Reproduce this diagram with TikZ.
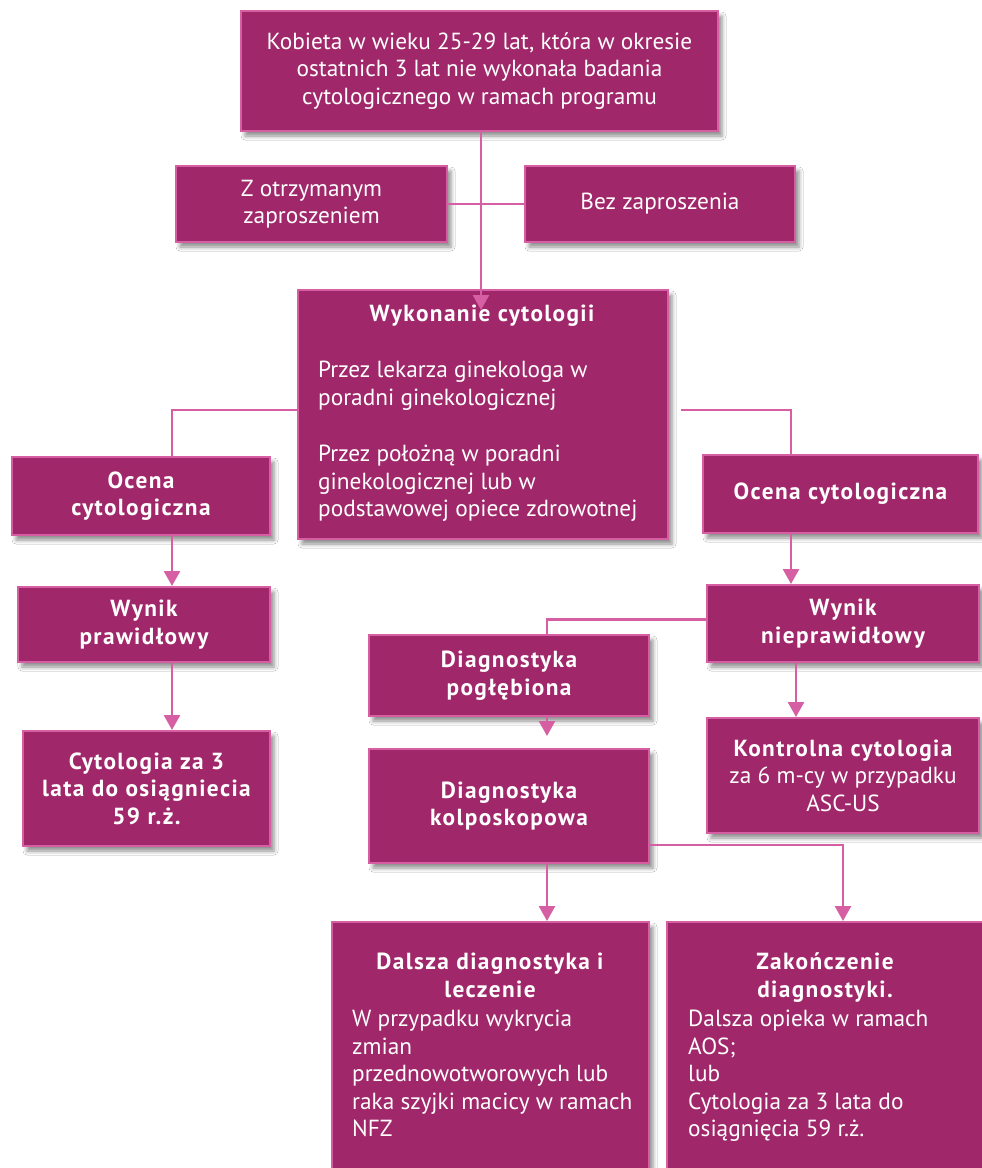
\documentclass[tikz,border=0pt]{standalone}
\usepackage{fontspec}
\setmainfont{PT Sans}[BoldFeatures={LetterSpace=6}]
\usetikzlibrary{arrows.meta,shadows.blur,calc}
\definecolor{boxfill}{RGB}{160,40,106}
\definecolor{boxline}{RGB}{214,94,162}
\definecolor{conn}{RGB}{214,94,162}
\begin{document}
\begin{tikzpicture}[x=1pt,y=-1pt,
  box/.style={draw=boxline, line width=2pt, fill=boxfill, text=white, inner sep=0pt, align=center,
    font=\fontsize{23.3}{27.5}\selectfont,
    blur shadow={shadow xshift=4pt, shadow yshift=-5pt, shadow blur radius=4pt, shadow opacity=45}},
  txt/.style={text=white, inner sep=0pt, font=\fontsize{23.3}{27.5}\selectfont},
  line/.style={draw=conn, line width=2.5pt},
  arr/.style={line, -{Triangle[width=16pt,length=15pt]}}]
\clip (0,0) rectangle (982,1168);
\fill[white] (0,0) rectangle (982,1168);
% column coordinates
\coordinate (cT) at (481,0);
\coordinate (cL) at (172,0);
\coordinate (cR1) at (791,0);
\coordinate (cR2) at (796,0);
\coordinate (cM) at (547,0);
\coordinate (cZ) at (843,0);
\coordinate (rs) at (681,410);
% boxes
\node[box, minimum width=477, minimum height=120] (top) at (479.5,71)
  {Kobieta w wieku 25-29 lat, która w okresie\\ostatnich 3 lat nie wykonała badania\\cytologicznego w ramach programu};
\node[box, minimum width=271, minimum height=76] (zinv) at (311.5,204) {Z otrzymanym\\zaproszeniem};
\node[box, minimum width=270, minimum height=76] (bez) at (660,204) {Bez zaproszenia};
\node[box, minimum width=370, minimum height=249] (wyk) at (483,414.5) {};
\node[box, minimum width=258, minimum height=78] (ocL) at (141,496) {\bfseries Ocena\\\bfseries cytologiczna};
\node[box, minimum width=275, minimum height=78] (ocR) at (840.5,494) {\bfseries Ocena cytologiczna};
\node[box, minimum width=252, minimum height=75] (wynP) at (144,624.5) {\bfseries Wynik\\\bfseries prawidłowy};
\node[box, minimum width=272, minimum height=77] (wynN) at (843,623.5) {\bfseries Wynik\\\bfseries nieprawidłowy};
\node[box, minimum width=247, minimum height=115] (cyt) at (146.5,788.5) {\bfseries Cytologia za 3\\\bfseries lata do osiągniecia\\\bfseries 59 r.ż.};
\node[box, minimum width=280, minimum height=81] (pog) at (509,675.5) {\bfseries Diagnostyka\\\bfseries pogłębiona};
\node[box, minimum width=272, minimum height=115] (kon) at (843,775.5) {\bfseries Kontrolna cytologia\\za 6 m-cy w przypadku\\ASC-US};
\node[box, minimum width=280, minimum height=114] (kol) at (509,806) {\bfseries Diagnostyka\\\bfseries kolposkopowa};
\node[box, minimum width=317, minimum height=268] (dal) at (490.5,1056) {};
\node[box, minimum width=333, minimum height=268] (zak) at (833.5,1056) {};
% texts in mixed boxes
\node[txt, anchor=base] (wykT) at (482,321) {\bfseries Wykonanie cytologii};
\node[txt, align=left, anchor=north west] (wyk1) at (318,361) {Przez lekarza ginekologa w\\poradni ginekologicznej};
\node[txt, align=left, anchor=north west] (wyk2) at (318,445) {Przez położną w poradni\\ginekologicznej lub w\\podstawowej opiece zdrowotnej};
\node[txt, align=center, anchor=north] (dalT) at (490,953) {\bfseries Dalsza diagnostyka i\\\bfseries leczenie};
\node[txt, align=left, anchor=north west] (dalB) at (352,1010) {W przypadku wykrycia\\zmian\\przednowotworowych lub\\raka szyjki macicy w ramach\\NFZ};
\node[txt, align=center, anchor=north] (zakT) at (825,953) {\bfseries Zakończenie\\\bfseries diagnostyki.};
\node[txt, align=left, anchor=north west] (zakB) at (688,1010) {Dalsza opieka w ramach\\AOS;\\lub\\Cytologia za 3 lata do\\osiągnięcia 59 r.ż.};
% connectors
\draw[line] (zinv.east) -- (bez.west);
\draw[arr] (top.south -| cT) -- ($(wyk.north -| cT)+(0,21)$);
\draw[line] (wyk.west |- rs) -| (ocL.north -| cL);
\draw[line] (rs) -| (ocR.north -| cR1);
\draw[arr] (ocL.south -| cL) -- (wynP.north -| cL);
\draw[arr] (wynP.south -| cL) -- (cyt.north -| cL);
\draw[arr] (ocR.south -| cR1) -- (wynN.north -| cR1);
\draw[arr] (wynN.south -| cR2) -- (kon.north -| cR2);
\draw[line] ($(wynN.west)+(0,-4)$) -| (pog.north -| cM);
\draw[arr, shorten >=12pt] (pog.south -| cM) -- (kol.north -| cM);
\draw[arr] (kol.south -| cM) -- (dal.north -| cM);
\draw[arr] ($(kol.east)+(0,39)$) -| (zak.north -| cZ);
\end{tikzpicture}
\end{document}
